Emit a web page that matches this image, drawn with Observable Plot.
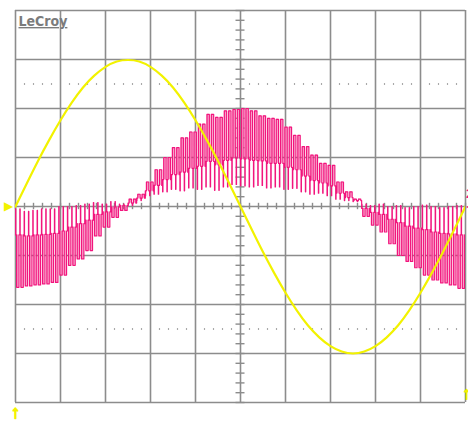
<!DOCTYPE html>
<html>
<head>
<meta charset="utf-8">
<script src="https://cdn.jsdelivr.net/npm/d3@7"></script>
<script src="https://cdn.jsdelivr.net/npm/@observablehq/plot@0.6"></script>
<style>
  html, body { margin: 0; padding: 0; background: #ffffff; }
  #chart svg { display: block; }
</style>
</head>
<body>
<div id="chart"></div>
<script>
// Grid in divisions: 10 horizontal, 8 vertical
const gridX = [0, 1, 2, 3, 4, 5, 6, 7, 8, 9, 10];
const gridY = [-4, -3, -2, -1, 0, 1, 2, 3, 4];
const dotRowsY = [2.5, -2.5];
const logoText = "LeCroy";

// Channel 1 (yellow): voltage, sampled every 0.25 div
const voltX = [0,0.25,0.5,0.75,1,1.25,1.5,1.75,2,2.25,2.5,2.75,3,3.25,3.5,3.75,4,4.25,4.5,4.75,5,
               5.25,5.5,5.75,6,6.25,6.5,6.75,7,7.25,7.5,7.75,8,8.25,8.5,8.75,9,9.25,9.5,9.75,10];
const voltY = [0,0.47,0.93,1.36,1.76,2.12,2.43,2.67,2.85,2.96,2.99,2.96,2.85,2.67,2.43,2.12,1.76,1.36,0.93,0.47,0,
               -0.47,-0.93,-1.36,-1.76,-2.12,-2.43,-2.67,-2.85,-2.96,-3.0,-2.96,-2.85,-2.67,-2.43,-2.12,-1.76,-1.36,-0.93,-0.47,0];

// Channel 2 (pink): switching current, per switching cycle (52 cycles over 10 div)
const currOuter = [-1.65,-1.62,-1.6,-1.58,-1.55,-1.4,-1.2,-1.07,-0.9,-0.6,-0.42,-0.22,-0.08,0.15,0.25,0.5,
                   0.75,1.0,1.2,1.4,1.52,1.68,1.88,1.82,1.95,1.98,2.0,1.95,1.85,1.8,1.78,1.62,1.45,1.22,1.05,0.88,
                   0.84,0.5,0.3,0.15,-0.2,-0.38,-0.52,-0.76,-1.0,-1.12,-1.25,-1.4,-1.5,-1.56,-1.6,-1.67];
const currMid = [-0.58,-0.6,-0.58,-0.57,-0.55,-0.5,-0.42,-0.35,-0.28,-0.16,-0.11,-0.01,0.02,0.07,0.17,0.32,
                 0.43,0.55,0.65,0.7,0.78,0.82,0.92,0.85,0.94,0.99,0.97,0.94,0.93,0.88,0.88,0.8,0.75,0.62,0.53,0.48,
                 0.42,0.27,0.18,0.12,-0.04,-0.12,-0.16,-0.26,-0.33,-0.4,-0.44,-0.47,-0.52,-0.55,-0.56,-0.58];
const currInner = [-0.05,-0.1,-0.08,-0.05,-0.05,0.0,0.0,0.02,0.05,0.08,0.05,0.1,0.05,0.02,0.12,0.22,
                   0.25,0.3,0.35,0.32,0.38,0.35,0.4,0.33,0.4,0.45,0.42,0.4,0.43,0.38,0.4,0.35,0.37,0.3,0.25,0.27,
                   0.22,0.15,0.12,0.1,0.05,0.02,0.05,0.0,0.02,-0.02,0.0,0.03,0.0,-0.02,0.0,0.02];

// ---- build tables from the arrays ----
const voltage = voltX.map((x, i) => ({x, y: voltY[i]}));
const N = currOuter.length;
const per = 10 / N;
const pink = [];
const boxes = [];
for (let k = 0; k < N; k++) {
  const x0 = k * per, O = currOuter[k], M = currMid[k], I = currInner[k];
  for (const h of [0, 0.5]) {
    const a = x0 + h * per;
    const s = 0.04 * per, b1 = a + 0.13 * per, b2 = a + 0.4 * per, e = a + 0.5 * per;
    pink.push({x: a, y: M}, {x: a, y: I}, {x: a + s, y: I}, {x: a + s, y: M},
              {x: b1, y: M}, {x: b1, y: O}, {x: b2, y: O}, {x: b2, y: M}, {x: e, y: M});
    boxes.push({x1: b1, x2: b2, y1: M, y2: O});
  }
}
const minorX = d3.range(0, 50.5, 1).map(i => i / 5);
const minorY = d3.range(0, 40.5, 1).map(i => i / 5 - 4);
const dots = [];
for (const y of dotRowsY) for (const x of minorX) if (Math.abs(x - Math.round(x)) > 1e-6) dots.push({x, y});

const grey = "#8c8c8c";
const yellow = "#f2f200";
const pinkC = "#f2157d";

const chart = Plot.plot({
  width: 468,
  height: 423,
  marginLeft: 15,
  marginRight: 3,
  marginTop: 10,
  marginBottom: 21,
  x: {domain: [0, 10], axis: null},
  y: {domain: [-4, 4], axis: null},
  style: {background: "#ffffff", overflow: "visible"},
  marks: [
    Plot.ruleX(gridX, {stroke: grey, strokeWidth: 1.6}),
    Plot.ruleY(gridY, {stroke: grey, strokeWidth: 1.6}),
    Plot.ruleX(minorX, {y1: -0.065, y2: 0.065, stroke: grey, strokeWidth: 1.4}),
    Plot.ruleY(minorY, {x1: 5 - 0.1, x2: 5 + 0.1, stroke: grey, strokeWidth: 1.4}),
    Plot.dot(dots, {x: "x", y: "y", r: 0.7, fill: "#777", stroke: null}),
    Plot.text([logoText], {x: 0, y: 4, text: d => d, dx: 3, dy: 11, textAnchor: "start",
      fontSize: 14, fontWeight: "bold", fill: "#7b7b7b", fontFamily: "DejaVu Sans Condensed, DejaVu Sans, sans-serif"}),
    Plot.rect(boxes, {x1: "x1", x2: "x2", y1: "y1", y2: "y2", fill: "#f7a0c8", clip: true}),
    Plot.line(pink, {x: "x", y: "y", stroke: pinkC, strokeWidth: 1.2, curve: "linear", clip: true}),
    Plot.line(voltage, {x: "x", y: "y", stroke: yellow, strokeWidth: 2.2, curve: "natural", clip: true}),
    // channel markers
    Plot.text(["\u25B6"], {x: 0, y: 0, text: d => d, dx: -7, fill: yellow, fontSize: 12}),
    Plot.text(["\u2191"], {x: 0, y: -4, text: d => d, dy: 10, fill: yellow, stroke: yellow, strokeWidth: 1.4,
      fontSize: 18, fontWeight: "bold"}),
    Plot.text(["\u2191"], {x: 10, y: -4, text: d => d, dx: 1, dy: -9, fill: yellow, stroke: yellow, strokeWidth: 1.2,
      fontSize: 17, fontWeight: "bold"}),
    Plot.text(["2"], {x: 10, y: 0, text: d => d, dx: 4, dy: -12, fill: pinkC, fontSize: 12, fontWeight: "bold"}),
    Plot.text(["\u25C0"], {x: 10, y: 0, text: d => d, dx: 3, fill: pinkC, fontSize: 8})
  ]
});
// underline the logo
for (const t of chart.querySelectorAll("text")) {
  if (t.textContent === logoText) t.setAttribute("text-decoration", "underline");
}
document.getElementById("chart").append(chart);
</script>
</body>
</html>
